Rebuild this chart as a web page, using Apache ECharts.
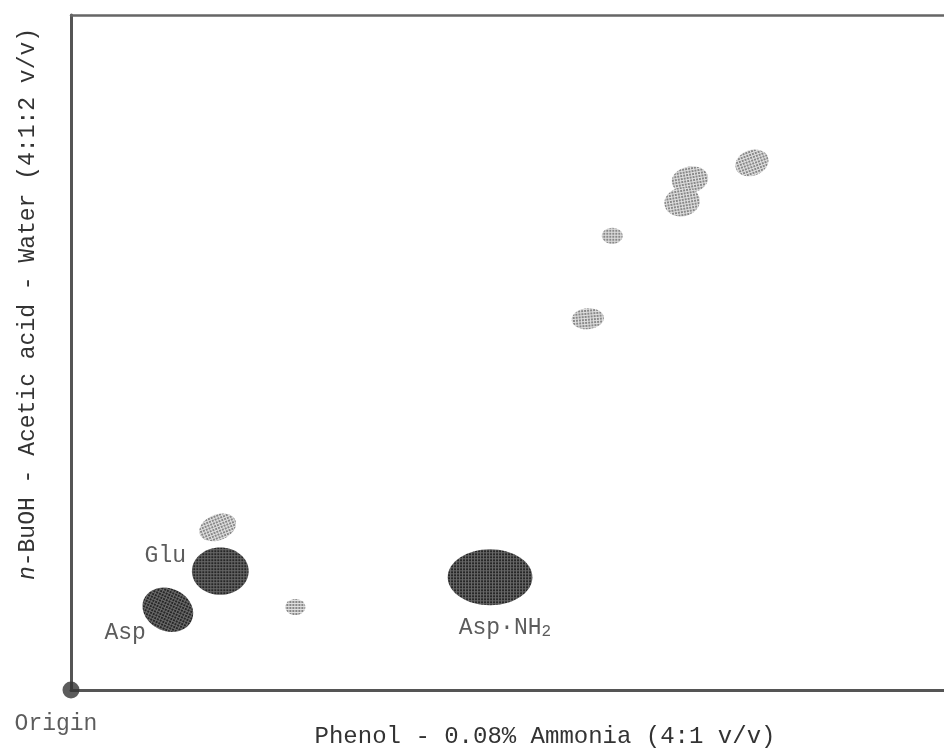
<!DOCTYPE html>
<html>
<head>
<meta charset="utf-8">
<script src="https://cdn.jsdelivr.net/npm/echarts@6/dist/echarts.min.js"></script>
<style>html,body{margin:0;padding:0;background:#fff}#c{width:944px;height:748px}</style>
</head>
<body>
<div id="c"></div>
<script>
// Spot data (chromatogram coordinates, 0-100 along each solvent direction)
const spotNames = ['Asp','Glu','a','b','Asp·NH2','c','d','e','f','g'];
const spotX     = [11.1, 17.1, 16.8, 25.7, 48.0, 59.2, 62.0, 70.9, 70.0, 78.0];
const spotY     = [11.9, 17.6, 24.1, 12.3, 16.7, 55.0, 67.3, 75.6, 72.3, 78.1];
const spotW     = [6.0,  6.5,  4.4,  2.3,  9.7,  3.7,  2.4,  4.2,  4.1,  3.9];
const spotH     = [6.3,  7.0,  3.8,  2.4,  8.3,  3.1,  2.4,  3.9,  4.3,  3.8];
const spotAngle = [-25,  0,    22,   0,    0,    5,    0,    10,   10,   20];
const spotTone  = ['dark','dark','light','light','dark','light','light','light','light','light'];

// Labels (anchored in chromatogram coordinates)
const labelText = ['Asp', 'Glu', 'Asp·NH2'];
const labelX    = [6.2, 10.8, 49.7];
const labelY    = [8.4, 19.9, 9.2];

const xTitle = 'Phenol - 0.08% Ammonia (4:1 v/v)';
const yTitle = '{i|n}-BuOH - Acetic acid - Water (4:1:2 v/v)';

function makePattern(bg, dot) {
  const cv = document.createElement('canvas');
  cv.width = 3; cv.height = 3;
  const g = cv.getContext('2d');
  g.fillStyle = bg; g.fillRect(0, 0, 3, 3);
  g.fillStyle = dot; g.fillRect(0, 0, 2, 2);
  return {image: cv, repeat: 'repeat'};
}
const fills = {
  dark: makePattern('#6a6a6a', '#262626'),
  light: makePattern('#e0e0e0', '#888888')
};

const FONT = '"Liberation Mono", "DejaVu Sans Mono", monospace';
const TXT = '#333';
const chart = echarts.init(document.getElementById('c'), null, {renderer: 'canvas'});

const spotData = spotX.map((x, i) => [x, spotY[i], spotW[i], spotH[i], spotAngle[i], i]);

chart.setOption({
  animation: false,
  backgroundColor: '#fff',
  grid: {left: 71, top: 15, right: 0, bottom: 58},
  xAxis: [
    {type: 'value', min: 0, max: 100, position: 'bottom',
     axisLine: {show: true, lineStyle: {color: '#555', width: 3}},
     axisTick: {show: false}, axisLabel: {show: false}, splitLine: {show: false}},
    {type: 'value', min: 0, max: 100, position: 'top',
     axisLine: {show: true, lineStyle: {color: '#666', width: 2.5}},
     axisTick: {show: false}, axisLabel: {show: false}, splitLine: {show: false}}
  ],
  yAxis: {type: 'value', min: 0, max: 100,
    axisLine: {show: true, lineStyle: {color: '#555', width: 3}},
    axisTick: {show: false}, axisLabel: {show: false}, splitLine: {show: false}},
  series: [
    {
      type: 'custom',
      data: spotData,
      renderItem: function (params, api) {
        const c = api.coord([api.value(0), api.value(1)]);
        const s = api.size([api.value(2), api.value(3)]);
        const i = api.value(5);
        return {
          type: 'ellipse',
          x: c[0], y: c[1],
          rotation: api.value(4) * Math.PI / 180,
          shape: {cx: 0, cy: 0, rx: s[0] / 2, ry: s[1] / 2},
          style: {fill: fills[spotTone[i]], stroke: null}
        };
      },
      silent: true
    },
    {
      type: 'scatter',
      data: labelX.map((x, i) => [x, labelY[i], labelText[i]]),
      symbolSize: 0,
      silent: true,
      label: {
        show: true, position: 'inside',
        formatter: function (p) {
          const t = p.value[2];
          if (t === 'Asp·NH2') return '{n|Asp·NH}{s|2}';
          return '{n|' + t + '}';
        },
        rich: {
          n: {fontFamily: FONT, fontSize: 23, color: TXT},
          s: {fontFamily: FONT, fontSize: 16, color: TXT, padding: [8, 0, 0, 0]}
        }
      }
    },
    {
      type: 'scatter',
      data: [[0, 0]],
      symbol: 'circle',
      symbolSize: 17,
      itemStyle: {color: '#333'},
      silent: true,
      label: {show: true, position: 'bottom', distance: 14, offset: [-15, 0],
        formatter: 'Origin', fontFamily: FONT, fontSize: 23, color: TXT}
    }
  ],
  graphic: [
    {type: 'text', x: 545, y: 737,
     style: {text: xTitle, font: '24px ' + FONT, fill: TXT, textAlign: 'center', textVerticalAlign: 'middle'}},
    {type: 'text', x: 28, y: 304, rotation: Math.PI / 2,
     style: {text: yTitle, font: '23px ' + FONT, fill: TXT, textAlign: 'center', textVerticalAlign: 'middle',
       rich: {i: {fontFamily: FONT, fontSize: 23, fontStyle: 'italic', fill: TXT}}}}
  ]
});
</script>
</body>
</html>
